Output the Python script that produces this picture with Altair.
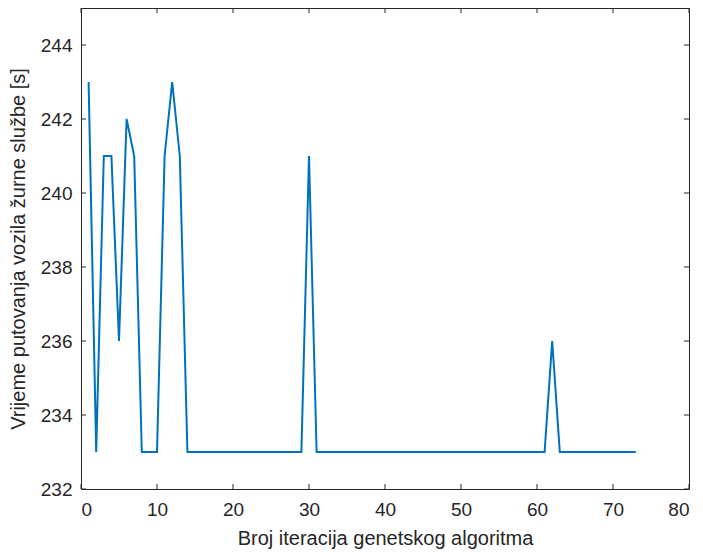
import altair as alt
import pandas as pd

# Data
iterations = list(range(1, 74))
travel_time = [
    243, 233, 241, 241, 236, 242, 241, 233, 233, 233,
    241, 243, 241,
    233, 233, 233, 233, 233, 233, 233, 233, 233, 233, 233, 233, 233, 233, 233, 233,
    241,
    233, 233, 233, 233, 233, 233, 233, 233, 233, 233,
    233, 233, 233, 233, 233, 233, 233, 233, 233, 233,
    233, 233, 233, 233, 233, 233, 233, 233, 233, 233, 233,
    236,
    233, 233, 233, 233, 233, 233, 233, 233, 233, 233, 233,
]
x_ticks = [0, 10, 20, 30, 40, 50, 60, 70, 80]
y_ticks = [232, 234, 236, 238, 240, 242, 244]

x_title = "Broj iteracija genetskog algoritma"
y_title = "Vrijeme putovanja vozila žurne službe [s]"

W, H = 608, 481
FONT = "Liberation Sans"
AX = "#262626"

df = pd.DataFrame({"x": iterations, "y": travel_time})
xt = pd.DataFrame({"t": x_ticks})
yt = pd.DataFrame({"t": y_ticks})

xscale = alt.Scale(domain=[0, 80], nice=False, zero=False)
yscale = alt.Scale(domain=[232, 245], nice=False, zero=False)

line = alt.Chart(df).mark_line(color="#0072BD", strokeWidth=2).encode(
    x=alt.X("x:Q", scale=xscale, title=x_title,
            axis=alt.Axis(values=x_ticks, domain=False, ticks=False, grid=False,
                          labelPadding=11, titlePadding=9)),
    y=alt.Y("y:Q", scale=yscale, title=y_title,
            axis=alt.Axis(values=y_ticks, domain=False, ticks=False, grid=False,
                          labelPadding=9, titlePadding=12)),
)

tick_len = 5
bx = alt.Chart(xt).mark_rule(color=AX, strokeWidth=1).encode(
    x=alt.X("t:Q", scale=xscale), y=alt.value(H), y2=alt.value(H - tick_len))
tx = alt.Chart(xt).mark_rule(color=AX, strokeWidth=1).encode(
    x=alt.X("t:Q", scale=xscale), y=alt.value(0), y2=alt.value(tick_len))
ly = alt.Chart(yt).mark_rule(color=AX, strokeWidth=1).encode(
    y=alt.Y("t:Q", scale=yscale), x=alt.value(0), x2=alt.value(tick_len))
ry = alt.Chart(yt).mark_rule(color=AX, strokeWidth=1).encode(
    y=alt.Y("t:Q", scale=yscale), x=alt.value(W), x2=alt.value(W - tick_len))

chart = alt.layer(line, bx, tx, ly, ry).properties(
    width=W, height=H,
    autosize=alt.AutoSizeParams(type="none"),
    padding={"left": 73, "top": 0, "right": 6, "bottom": 60},
).configure_view(
    stroke=AX, strokeWidth=1
).configure_axis(
    labelFont=FONT, titleFont=FONT, labelFontSize=19, titleFontSize=20,
    labelColor=AX, titleColor=AX, titleFontWeight="normal",
)

chart.save("out.html", embed_options={"renderer": "svg", "actions": False})
